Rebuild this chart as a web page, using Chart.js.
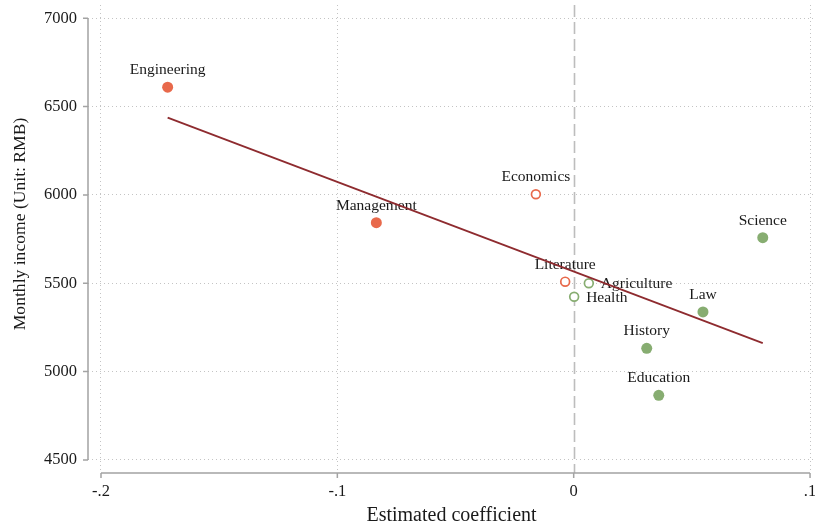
<!DOCTYPE html>
<html>
<head>
<meta charset="utf-8">
<script src="https://cdn.jsdelivr.net/npm/chart.js@4.4.1/dist/chart.umd.min.js"></script>
<style>
  html, body { margin: 0; padding: 0; background: #ffffff; }
  canvas { display: block; }
</style>
</head>
<body>
<canvas id="chart" width="815" height="526"></canvas>
<script>
// Majors, their estimated coefficient and average monthly income (RMB)
const majors = ['Engineering', 'Management', 'Economics', 'Literature', 'Agriculture',
                'Health', 'Science', 'Law', 'History', 'Education'];
const coefficient = [-0.1718, -0.0835, -0.0160, -0.0036, 0.0064,
                     0.0002, 0.0800, 0.0547, 0.0309, 0.0360];
const monthlyIncome = [6610, 5843, 6004, 5509, 5500,
                       5424, 5758, 5338, 5132, 4866];
const significant = [true, true, false, false, false,
                     false, true, true, true, true];

// Fitted line end points
const fitCoefficient = [-0.1718, 0.0800];
const fitIncome = [6437, 5161];

// Axis ticks
const xTickValues = [-0.2, -0.1, 0, 0.1];
const xTickLabels = ['-.2', '-.1', '0', '.1'];
const yTickValues = [4500, 5000, 5500, 6000, 6500, 7000];
const yTickLabels = ['4500', '5000', '5500', '6000', '6500', '7000'];
const yTitle = 'Monthly income (Unit: RMB)';

const NEG = '#e8694b';
const POS = '#87ad71';
const FIT = '#8e2b2f';
const SERIF = "'Liberation Serif', 'Times New Roman', serif";

const signColor = coefficient.map(v => v < 0 ? NEG : POS);

// Labels placed to the right of the marker instead of above it
const rightLabels = new Set(['Agriculture', 'Health']);

const axesPlugin = {
  id: 'stataAxes',
  beforeDatasetsDraw(chart) {
    const { ctx, chartArea, scales } = chart;
    const x = scales.x, y = scales.y;
    ctx.save();
    // dashed reference line at zero
    ctx.strokeStyle = '#bdbdbd';
    ctx.lineWidth = 1.6;
    ctx.setLineDash([12, 5]);
    const x0 = Math.round(x.getPixelForValue(0)) + 0.5;
    ctx.beginPath();
    ctx.moveTo(x0, chartArea.top);
    ctx.lineTo(x0, chartArea.bottom);
    ctx.stroke();
    ctx.setLineDash([]);

    // axis lines spanning the tick range, with outward ticks
    ctx.strokeStyle = '#a3a3a3';
    ctx.lineWidth = 1.5;
    const ax = chartArea.left;
    const yTop = y.getPixelForValue(yTickValues[yTickValues.length - 1]);
    const yBot = y.getPixelForValue(yTickValues[0]);
    ctx.beginPath();
    ctx.moveTo(ax, yTop);
    ctx.lineTo(ax, yBot);
    yTickValues.forEach(v => {
      const p = y.getPixelForValue(v);
      ctx.moveTo(ax - 5, p);
      ctx.lineTo(ax, p);
    });
    const ay = chartArea.bottom;
    const xL = x.getPixelForValue(xTickValues[0]);
    const xR = x.getPixelForValue(xTickValues[xTickValues.length - 1]);
    ctx.moveTo(xL, ay);
    ctx.lineTo(xR, ay);
    xTickValues.forEach(v => {
      const p = x.getPixelForValue(v);
      ctx.moveTo(p, ay);
      ctx.lineTo(p, ay + 5);
    });
    ctx.stroke();

    // vertical axis title, set a little above the middle of the plot
    ctx.fillStyle = '#1a1a1a';
    ctx.font = '17.6px ' + SERIF;
    ctx.textAlign = 'center';
    ctx.textBaseline = 'middle';
    ctx.save();
    ctx.translate(20, (chartArea.top + chartArea.bottom) / 2 - 15);
    ctx.rotate(-Math.PI / 2);
    ctx.fillText(yTitle, 0, 0);
    ctx.restore();

    // marker labels
    const meta = chart.getDatasetMeta(1);
    ctx.font = '15.5px ' + SERIF;
    meta.data.forEach((pt, i) => {
      const name = majors[i];
      ctx.textBaseline = 'middle';
      if (rightLabels.has(name)) {
        ctx.textAlign = 'left';
        ctx.fillText(name, pt.x + 12, pt.y + 1);
      } else {
        ctx.textAlign = 'center';
        ctx.fillText(name, pt.x, pt.y - 17);
      }
    });
    ctx.restore();
  }
};

// keep the plot region flush with the layout box (no label overhang padding)
function noOverhang(s) {
  s.paddingTop = 0; s.paddingBottom = 0;
  s.paddingLeft = 0; s.paddingRight = 0;
}

new Chart(document.getElementById('chart'), {
  type: 'scatter',
  data: {
    datasets: [
      {
        type: 'line',
        label: 'Fitted',
        data: fitCoefficient.map((v, i) => ({ x: v, y: fitIncome[i] })),
        borderColor: FIT,
        borderWidth: 1.8,
        pointRadius: 0,
        fill: false,
        order: 0
      },
      {
        label: 'Majors',
        data: coefficient.map((v, i) => ({ x: v, y: monthlyIncome[i] })),
        pointBackgroundColor: significant.map((s, i) => s ? signColor[i] : '#ffffff'),
        pointBorderColor: signColor,
        pointBorderWidth: significant.map(s => s ? 0 : 1.7),
        pointRadius: significant.map(s => s ? 5.5 : 4.4),
        order: 1
      }
    ]
  },
  options: {
    responsive: false,
    animation: false,
    devicePixelRatio: 1,
    layout: { autoPadding: false, padding: { top: 5, right: 0, left: 0, bottom: 0 } },
    plugins: { legend: { display: false }, tooltip: { enabled: false } },
    scales: {
      x: {
        type: 'linear',
        min: -0.2055,
        max: 0.1021,
        afterBuildTicks: s => { s.ticks = xTickValues.map(v => ({ value: v })); },
        afterFit: s => { s.height = 53; noOverhang(s); },
        ticks: {
          callback: v => xTickLabels[xTickValues.indexOf(v)],
          color: '#1a1a1a',
          padding: 9,
          maxRotation: 0,
          font: { family: SERIF, size: 16.5 }
        },
        grid: {
          drawTicks: false,
          lineWidth: 1,
          color: c => (c.tick && c.tick.value === 0) ? 'rgba(0,0,0,0)' : '#c4c4c4'
        },
        border: { display: false, dash: [1, 3] },
        title: {
          display: true,
          text: 'Estimated coefficient',
          color: '#1a1a1a',
          font: { family: SERIF, size: 20, lineHeight: 1 },
          padding: { top: 0, bottom: 0 }
        }
      },
      y: {
        type: 'linear',
        min: 4426,
        max: 7075,
        afterBuildTicks: s => { s.ticks = yTickValues.map(v => ({ value: v })); },
        afterFit: s => { s.width = 88; noOverhang(s); },
        ticks: {
          callback: v => yTickLabels[yTickValues.indexOf(v)],
          color: '#1a1a1a',
          padding: 11,
          font: { family: SERIF, size: 16.5 }
        },
        grid: {
          drawTicks: false,
          lineWidth: 1,
          color: '#c4c4c4'
        },
        border: { display: false, dash: [1, 3] },
        title: { display: false }
      }
    }
  },
  plugins: [axesPlugin]
});
</script>
</body>
</html>
